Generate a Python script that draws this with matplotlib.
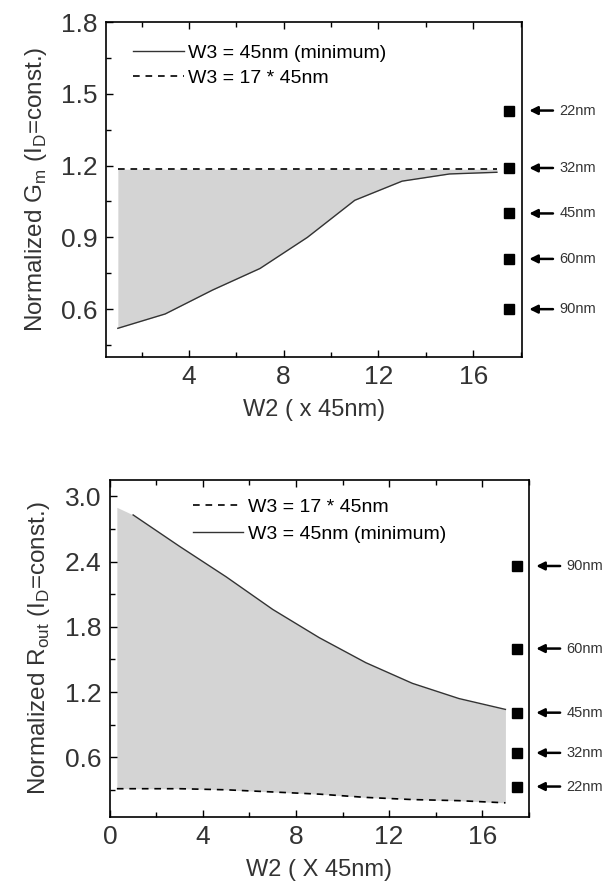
import matplotlib
matplotlib.use("Agg")
import matplotlib.pyplot as plt
from matplotlib.ticker import MultipleLocator
from matplotlib.transforms import blended_transform_factory

plt.rcParams["font.family"] = ["Liberation Sans", "DejaVu Sans"]
plt.rcParams["mathtext.fontset"] = "custom"
plt.rcParams["mathtext.rm"] = "Liberation Sans"

# --- top panel: normalized Gm ---
w2 = [1, 3, 5, 7, 9, 11, 13, 15, 17]
gm_min = [0.52, 0.58, 0.68, 0.77, 0.90, 1.055, 1.135, 1.165, 1.172]
gm_17 = [1.185, 1.185, 1.185, 1.185, 1.185, 1.185, 1.185, 1.185, 1.185]
gm_nodes = ["22nm", "32nm", "45nm", "60nm", "90nm"]
gm_node_vals = [1.43, 1.19, 1.0, 0.81, 0.60]

# --- bottom panel: normalized Rout ---
w2_dash = [0.3, 1, 3, 5, 7, 9, 11, 13, 15, 17]
rout_17 = [0.31, 0.31, 0.31, 0.30, 0.28, 0.26, 0.23, 0.21, 0.20, 0.18]
rout_min = [2.83, 2.54, 2.26, 1.96, 1.70, 1.47, 1.28, 1.14, 1.04]
rout_fill_top = [2.90] + rout_min
rout_nodes = ["90nm", "60nm", "45nm", "32nm", "22nm"]
rout_node_vals = [2.36, 1.60, 1.01, 0.64, 0.33]

NODE_X = 17.5
FILL = "#d4d4d4"


def estilo(ax):
    for s in ax.spines.values():
        s.set_linewidth(1.2)
    ax.tick_params(which="both", direction="in", top=True, right=False,
                   labelsize=19, pad=6, width=1.0, labelcolor="#333333")
    ax.tick_params(which="major", length=5)
    ax.tick_params(which="minor", length=3.5)


def nos(ax, nomes, vals):
    ax.plot([NODE_X] * len(vals), vals, "s", color="black", markersize=7,
            clip_on=False)
    tr = blended_transform_factory(ax.transAxes, ax.transData)
    for nome, v in zip(nomes, vals):
        ax.annotate("", xy=(1.018, v), xytext=(1.075, v), xycoords=tr,
                    textcoords=tr,
                    arrowprops=dict(arrowstyle="-|>", color="black", lw=1.8,
                                    mutation_scale=12, shrinkA=0, shrinkB=0),
                    annotation_clip=False)
        ax.text(1.09, v, nome, transform=tr, fontsize=10.5, va="center",
                ha="left", color="#333333")


fig = plt.figure(figsize=(6.07, 8.91), dpi=100)

ax1 = fig.add_axes([0.1746, 0.5993, 0.685, 0.376])
ax1.fill_between(w2, gm_min, gm_17, color=FILL, linewidth=0)
ax1.plot(w2, gm_min, "-", color="#333333", lw=1.0,
         label="W3 = 45nm (minimum)")
ax1.plot(w2, gm_17, color="black", lw=1.2, dashes=(4, 3.5),
         label="W3 = 17 * 45nm")
nos(ax1, gm_nodes, gm_node_vals)
ax1.set_xlim(0.5, 18.05)
ax1.set_ylim(0.4, 1.8)
ax1.set_xticks([4, 8, 12, 16])
ax1.xaxis.set_minor_locator(MultipleLocator(2))
ax1.set_yticks([0.6, 0.9, 1.2, 1.5, 1.8])
ax1.yaxis.set_minor_locator(MultipleLocator(0.15))
ax1.set_xlabel("W2 ( x 45nm)", fontsize=17, labelpad=7, color="#333333")
ax1.set_ylabel(r"Normalized G$_\mathregular{m}$ (I$_\mathregular{D}$=const.)",
               fontsize=17.5, labelpad=9, color="#333333")
estilo(ax1)
ax1.legend(loc="upper left", bbox_to_anchor=(0.065, 0.934), frameon=False,
           fontsize=14, handlelength=2.6, handletextpad=0.25,
           labelspacing=0.4, borderpad=0, borderaxespad=0)

ax2 = fig.add_axes([0.181, 0.0831, 0.690, 0.378])
ax2.fill_between(w2_dash, rout_fill_top, rout_17, color=FILL, linewidth=0)
ax2.plot(w2_dash, rout_17, color="black", lw=1.2, dashes=(4, 3.5),
         label="W3 = 17 * 45nm")
ax2.plot(w2, rout_min, "-", color="#333333", lw=1.0,
         label="W3 = 45nm (minimum)")
nos(ax2, rout_nodes, rout_node_vals)
ax2.set_xlim(0, 18)
ax2.set_ylim(0.05, 3.15)
ax2.set_xticks([0, 4, 8, 12, 16])
ax2.xaxis.set_minor_locator(MultipleLocator(2))
ax2.set_yticks([0.6, 1.2, 1.8, 2.4, 3.0])
ax2.yaxis.set_minor_locator(MultipleLocator(0.3))
ax2.set_xlabel("W2 ( X 45nm)", fontsize=17, labelpad=7, color="#333333")
ax2.set_ylabel(r"Normalized R$_\mathregular{out}$ (I$_\mathregular{D}$=const.)",
               fontsize=17.5, labelpad=9, color="#333333")
estilo(ax2)
ax2.legend(loc="upper left", bbox_to_anchor=(0.198, 0.947), frameon=False,
           fontsize=14, handlelength=2.6, handletextpad=0.25,
           labelspacing=0.5, borderpad=0, borderaxespad=0)

fig.savefig("out.png", dpi=100, facecolor="white")
